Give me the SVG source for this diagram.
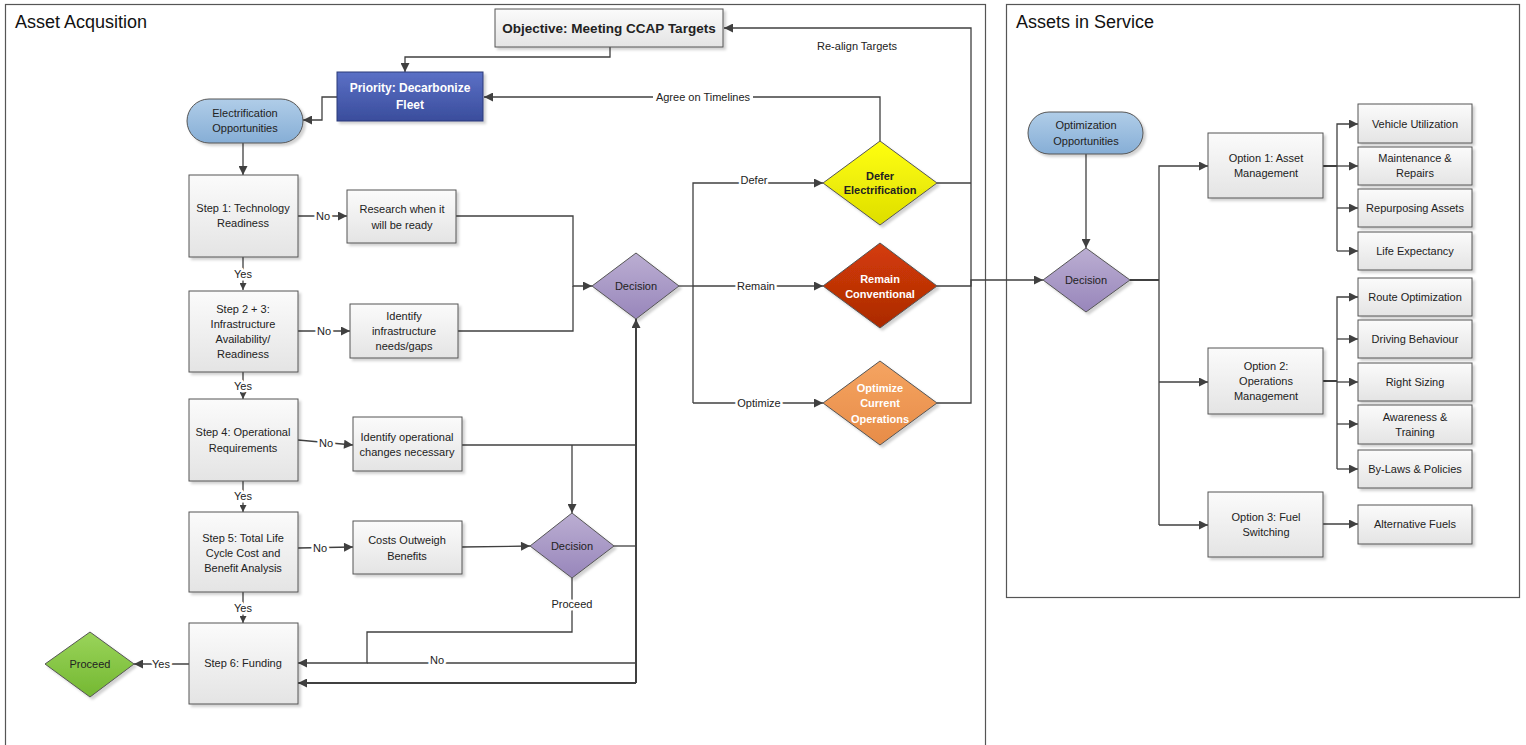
<svg xmlns="http://www.w3.org/2000/svg" width="1526" height="745" viewBox="0 0 1526 745">
<defs>
<linearGradient id="gBox" x1="0" y1="0" x2="0" y2="1"><stop offset="0" stop-color="#fbfbfb"/><stop offset="1" stop-color="#e4e4e4"/></linearGradient>
<linearGradient id="gPri" x1="0" y1="0" x2="0" y2="1"><stop offset="0" stop-color="#5b70c6"/><stop offset="1" stop-color="#3a4d9c"/></linearGradient>
<linearGradient id="gPill" x1="0" y1="0" x2="0" y2="1"><stop offset="0" stop-color="#b0cde8"/><stop offset="1" stop-color="#86aed6"/></linearGradient>
<linearGradient id="gDec" x1="0" y1="0" x2="0" y2="1"><stop offset="0" stop-color="#bbaed2"/><stop offset="1" stop-color="#9886bb"/></linearGradient>
<linearGradient id="gYel" x1="0" y1="0" x2="0" y2="1"><stop offset="0" stop-color="#ffff10"/><stop offset="1" stop-color="#dede00"/></linearGradient>
<linearGradient id="gRed" x1="0" y1="0" x2="0" y2="1"><stop offset="0" stop-color="#d53c08"/><stop offset="1" stop-color="#ab2a04"/></linearGradient>
<linearGradient id="gOra" x1="0" y1="0" x2="0" y2="1"><stop offset="0" stop-color="#f5a461"/><stop offset="1" stop-color="#e78c48"/></linearGradient>
<linearGradient id="gGrn" x1="0" y1="0" x2="0" y2="1"><stop offset="0" stop-color="#9ad45a"/><stop offset="1" stop-color="#74b832"/></linearGradient>
<filter id="sh" x="-10%" y="-10%" width="130%" height="130%"><feDropShadow dx="2.5" dy="2.5" stdDeviation="1" flood-color="#000" flood-opacity="0.18"/></filter>
<marker id="ah" viewBox="0 0 10 10" refX="10" refY="5" markerWidth="11" markerHeight="9" markerUnits="userSpaceOnUse" orient="auto"><path d="M0,0 L10,5 L0,10 z" fill="#404040"/></marker>
<marker id="as" viewBox="0 0 10 10" refX="10" refY="5" markerWidth="7" markerHeight="7" markerUnits="userSpaceOnUse" orient="auto"><path d="M0,0 L10,5 L0,10 z" fill="#404040"/></marker>
</defs>
<style>
text{font-family:"Liberation Sans",Arial,sans-serif;font-size:11px;fill:#222;text-anchor:middle;dominant-baseline:central}
.title{font-size:18px;text-anchor:start;fill:#111}
.box{fill:url(#gBox);stroke:#555;stroke-width:1;filter:url(#sh)}
.cont{fill:#fff;stroke:#555;stroke-width:1.2}
.c{fill:none;stroke:#404040;stroke-width:1.3}
.ct{fill:none;stroke:#404040;stroke-width:2}
.a{marker-end:url(#ah)}
.s{marker-end:url(#as)}
.lbl{paint-order:stroke;stroke:#fff;stroke-width:5px;stroke-linejoin:round}
.bg{fill:#fff}
.w{fill:#fff;font-weight:bold}
.b{font-weight:bold}
</style>

<g id="containers">
<rect class="cont" x="5.5" y="4.5" width="980" height="770"/>
<text class="title" x="15" y="22">Asset Acqusition</text>
<rect class="cont" x="1006.5" y="4.5" width="513" height="593"/>
<text class="title" x="1016" y="22">Assets in Service</text>
</g>

<g id="connectors">
<path class="c a" d="M610,47 V57 H405 V72"/>
<path class="c a" d="M337,97 H322 V120 H303"/>
<path class="c a" d="M243,143 V175"/>
<path class="c s" d="M243,257 V290"/>
<path class="c s" d="M243,372 V399"/>
<path class="c s" d="M243,481 V512"/>
<path class="c s" d="M243,592 V623"/>
<path class="c a" d="M298,216 H347"/>
<path class="c a" d="M298,331 H350"/>
<path class="c a" d="M298,440 L353,445"/>
<path class="c a" d="M298,548 L353,547"/>
<path class="c a" d="M456,216 H573 V286 H592"/>
<path class="c" d="M458,331 H573 V286"/>
<path class="c" d="M462,445 H636"/>
<path class="c a" d="M572,445 V513"/>
<path class="c a" d="M462,547 L530,546"/>
<path class="c" d="M614,546 H636"/>
<path class="c a" d="M572,578 V632 H367 V663 H298"/>
<path class="c" d="M636,663 H367"/>
<path class="ct a" d="M636,683 H298"/>
<path class="ct a" d="M636,683 V319"/>
<path class="c a" d="M189,664 H134"/>
<path class="c" d="M679,286 H693"/>
<path class="c a" d="M693,403 V183 H823"/>
<path class="c a" d="M693,286 H823"/>
<path class="c a" d="M693,403 H823"/>
<path class="c" d="M937,183 H971"/>
<path class="c a" d="M937,403 H971 V28 H724"/>
<path class="c a" d="M880,141 V97 H484"/>
<path class="c a" d="M937,286 H971 V280 H1043"/>
<path class="c a" d="M1086,154 V248"/>
<path class="ct" d="M1130,280 H1159"/>
<path class="c a" d="M1159,525 V166 H1208"/>
<path class="c a" d="M1159,382 H1208"/>
<path class="c a" d="M1159,525 H1208"/>
<path class="ct" d="M1323,166 H1337"/>
<path class="c a" d="M1337,251 V124 H1358"/>
<path class="c a" d="M1337,166 H1358"/>
<path class="c a" d="M1337,208 H1358"/>
<path class="c a" d="M1337,251 H1358"/>
<path class="ct" d="M1323,381 H1337"/>
<path class="c a" d="M1337,469 V297 H1358"/>
<path class="c a" d="M1337,339 H1358"/>
<path class="c a" d="M1337,382 H1358"/>
<path class="c a" d="M1337,424 H1358"/>
<path class="c a" d="M1337,469 H1358"/>
<path class="c a" d="M1323,524 H1358"/>
<text class="lbl" x="243" y="274">Yes</text>
<text class="lbl" x="243" y="386">Yes</text>
<text class="lbl" x="243" y="496">Yes</text>
<text class="lbl" x="243" y="608">Yes</text>
<text class="lbl" x="323" y="216">No</text>
<text class="lbl" x="324" y="331">No</text>
<text class="lbl" x="326" y="443">No</text>
<text class="lbl" x="320" y="548">No</text>
<text class="lbl" x="161" y="664">Yes</text>
<text class="lbl" x="572" y="604">Proceed</text>
<text class="lbl" x="437" y="660">No</text>
<text class="lbl" x="754" y="180">Defer</text>
<text class="lbl" x="756" y="286">Remain</text>
<text class="lbl" x="759" y="403">Optimize</text>
<text x="857" y="46">Re-align Targets</text>
<rect class="bg" x="653" y="90" width="100" height="14"/>
<text x="703" y="97">Agree on Timelines</text>
</g>

<g id="objective"><rect class="box" x="495" y="9" width="228" height="38"/><text class="b" x="609" y="28" style="font-size:13.5px">Objective: Meeting CCAP Targets</text></g>
<g id="priority"><rect x="337" y="72" width="146" height="49" fill="url(#gPri)" stroke="#2b3a78" filter="url(#sh)"/><text class="w" x="410" y="88" style="font-size:12px">Priority: Decarbonize</text><text class="w" x="410" y="105" style="font-size:12px">Fleet</text></g>
<g id="electrification"><rect x="187" y="99" width="116" height="44" rx="22" fill="url(#gPill)" stroke="#555" filter="url(#sh)"/><text x="245" y="113">Electrification</text><text x="245" y="128">Opportunities</text></g>

<g id="step1"><rect class="box" x="189" y="175" width="109" height="82"/><text x="243" y="208">Step 1: Technology</text><text x="243" y="223">Readiness</text></g>
<g id="research"><rect class="box" x="347" y="190" width="109" height="53"/><text x="402" y="209">Research when it</text><text x="402" y="225">will be ready</text></g>
<g id="step23"><rect class="box" x="189" y="291" width="109" height="81"/><text x="243" y="309">Step 2 + 3:</text><text x="243" y="324">Infrastructure</text><text x="243" y="339">Availability/</text><text x="243" y="354">Readiness</text></g>
<g id="infra"><rect class="box" x="350" y="304" width="108" height="54"/><text x="404" y="316">Identify</text><text x="404" y="331">infrastructure</text><text x="404" y="346">needs/gaps</text></g>
<g id="step4"><rect class="box" x="189" y="399" width="109" height="82"/><text x="243" y="432">Step 4: Operational</text><text x="243" y="448">Requirements</text></g>
<g id="operational"><rect class="box" x="353" y="417" width="109" height="54"/><text x="407" y="437">Identify operational</text><text x="407" y="452">changes necessary</text></g>
<g id="step5"><rect class="box" x="189" y="512" width="109" height="80"/><text x="243" y="538">Step 5: Total Life</text><text x="243" y="553">Cycle Cost and</text><text x="243" y="568">Benefit Analysis</text></g>
<g id="costs"><rect class="box" x="353" y="521" width="109" height="53"/><text x="407" y="540">Costs Outweigh</text><text x="407" y="556">Benefits</text></g>
<g id="step6"><rect class="box" x="189" y="623" width="109" height="81"/><text x="243" y="663">Step 6: Funding</text></g>
<g id="proceed"><polygon points="90,632 134,664 90,697 45,664" fill="url(#gGrn)" stroke="#555" filter="url(#sh)"/><text x="90" y="664">Proceed</text></g>
<g id="decision2"><polygon points="572,513 614,546 572,578 530,546" fill="url(#gDec)" stroke="#555" filter="url(#sh)"/><text x="572" y="546">Decision</text></g>
<g id="decision1"><polygon points="636,253 679,286 636,319 592,286" fill="url(#gDec)" stroke="#555" filter="url(#sh)"/><text x="636" y="286">Decision</text></g>
<g id="defer"><polygon points="880,141 937,183 880,225 823,183" fill="url(#gYel)" stroke="#555" filter="url(#sh)"/><text class="b" x="880" y="176">Defer</text><text class="b" x="880" y="190">Electrification</text></g>
<g id="remain"><polygon points="880,243 937,286 880,328 823,286" fill="url(#gRed)" stroke="#555" filter="url(#sh)"/><text class="w" x="880" y="279">Remain</text><text class="w" x="880" y="294">Conventional</text></g>
<g id="optimize"><polygon points="880,361 937,403 880,445 823,403" fill="url(#gOra)" stroke="#555" filter="url(#sh)"/><text class="w" x="880" y="388">Optimize</text><text class="w" x="880" y="403">Current</text><text class="w" x="880" y="419">Operations</text></g>

<g id="optopp"><rect x="1028" y="112" width="115" height="42" rx="21" fill="url(#gPill)" stroke="#555" filter="url(#sh)"/><text x="1086" y="125">Optimization</text><text x="1086" y="141">Opportunities</text></g>
<g id="decision3"><polygon points="1086,248 1130,280 1086,312 1043,280" fill="url(#gDec)" stroke="#555" filter="url(#sh)"/><text x="1086" y="280">Decision</text></g>
<g id="option1"><rect class="box" x="1208" y="133" width="115" height="65"/><text x="1266" y="158">Option 1: Asset</text><text x="1266" y="173">Management</text></g>
<g id="option2"><rect class="box" x="1208" y="348" width="115" height="66"/><text x="1266" y="366">Option 2:</text><text x="1266" y="381">Operations</text><text x="1266" y="396">Management</text></g>
<g id="option3"><rect class="box" x="1208" y="492" width="115" height="65"/><text x="1266" y="517">Option 3: Fuel</text><text x="1266" y="532">Switching</text></g>
<g id="vehicle"><rect class="box" x="1358" y="104" width="114" height="39"/><text x="1415" y="124">Vehicle Utilization</text></g>
<g id="maintenance"><rect class="box" x="1358" y="147" width="114" height="38"/><text x="1415" y="158">Maintenance &amp;</text><text x="1415" y="173">Repairs</text></g>
<g id="repurposing"><rect class="box" x="1358" y="189" width="114" height="38"/><text x="1415" y="208">Repurposing Assets</text></g>
<g id="life"><rect class="box" x="1358" y="232" width="114" height="38"/><text x="1415" y="251">Life Expectancy</text></g>
<g id="route"><rect class="box" x="1358" y="278" width="114" height="38"/><text x="1415" y="297">Route Optimization</text></g>
<g id="driving"><rect class="box" x="1358" y="320" width="114" height="38"/><text x="1415" y="339">Driving Behaviour</text></g>
<g id="rightsizing"><rect class="box" x="1358" y="363" width="114" height="38"/><text x="1415" y="382">Right Sizing</text></g>
<g id="awareness"><rect class="box" x="1358" y="405" width="114" height="39"/><text x="1415" y="417">Awareness &amp;</text><text x="1415" y="432">Training</text></g>
<g id="bylaws"><rect class="box" x="1358" y="450" width="114" height="38"/><text x="1415" y="469">By-Laws &amp; Policies</text></g>
<g id="altfuels"><rect class="box" x="1358" y="505" width="114" height="39"/><text x="1415" y="524">Alternative Fuels</text></g>
</svg>
